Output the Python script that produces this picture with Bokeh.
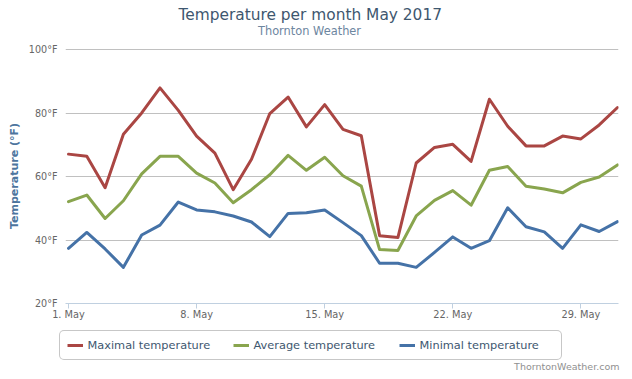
from bokeh.plotting import figure
from bokeh.layouts import column
from bokeh.models import Range1d, FixedTicker, Legend, LegendItem, Label
from bokeh.embed import file_html
from bokeh.resources import INLINE

# ---- data ----
days = list(range(1, 32))
max_temp = [67.1, 66.4, 56.5, 73.4, 80.1, 88.0, 80.9, 72.8, 67.4, 55.9, 65.5, 79.9, 85.1, 75.7, 82.7, 74.9,
            72.9, 41.4, 40.8, 64.3, 69.2, 70.2, 64.8, 84.4, 75.9, 69.7, 69.7, 72.8, 71.9, 76.3, 81.8]
avg_temp = [52.1, 54.2, 46.8, 52.4, 60.9, 66.4, 66.4, 61.1, 58.0, 51.8, 55.9, 60.6, 66.7, 62.0, 66.1, 60.3,
            57.0, 37.0, 36.7, 47.6, 52.5, 55.6, 51.0, 62.0, 63.2, 57.0, 56.1, 54.9, 58.2, 59.9, 63.7]
min_temp = [37.4, 42.4, 37.2, 31.4, 41.6, 44.7, 52.0, 49.5, 48.9, 47.6, 45.7, 41.1, 48.4, 48.6, 49.5, 45.5,
            41.4, 32.7, 32.7, 31.4, 36.1, 41.0, 37.4, 39.8, 50.2, 44.2, 42.6, 37.4, 44.8, 42.7, 45.8]
series_names = ["Maximal temperature", "Average temperature", "Minimal temperature"]
series_colors = ["#AA4643", "#89A54E", "#4572A7"]
x_ticks = [1, 8, 15, 22, 29]
x_labels = ["1. May", "8. May", "15. May", "22. May", "29. May"]
y_ticks = [20, 40, 60, 80, 100]
y_labels = ["20°F", "40°F", "60°F", "80°F", "100°F"]
title_text = "Temperature per month May 2017"
subtitle_text = "Thornton Weather"
credits_text = "ThorntonWeather.com"
y_title = "Temperature (°F)"

FONT = "DejaVu Sans"
W = 626
H_HEAD = 40
H_MAIN = 282
H_FOOT = 57


def strip(height):
    s = figure(width=W, height=height, x_range=Range1d(0, W), y_range=Range1d(0, height),
               output_backend="svg", toolbar_location=None, title=None,
               min_border_left=0, min_border_right=0, min_border_top=0, min_border_bottom=0)
    s.axis.visible = False
    s.grid.visible = False
    s.outline_line_color = None
    s.background_fill_color = "white"
    s.border_fill_color = "white"
    s.frame_align = False
    return s


# ---- header: title + subtitle ----
head = strip(H_HEAD)
head.add_layout(Label(x=309.7, y=26, x_units="screen", y_units="screen", text=title_text,
                      text_align="center", text_baseline="middle", text_font=FONT,
                      text_font_size="15.4px", text_color="#3E576F"))
head.add_layout(Label(x=309, y=10, x_units="screen", y_units="screen", text=subtitle_text,
                      text_align="center", text_baseline="middle", text_font=FONT,
                      text_font_size="11.4px", text_color="#6D869F"))

# ---- main chart ----
p = figure(width=W, height=H_MAIN, title=None,
           x_range=Range1d(0.836, 31.055), y_range=Range1d(20, 100.41),
           output_backend="svg", toolbar_location=None,
           min_border_left=65, min_border_right=8, min_border_top=8, min_border_bottom=17)
p.frame_align = False
p.outline_line_color = None
p.background_fill_color = "white"
p.border_fill_color = "white"

p.xaxis.ticker = FixedTicker(ticks=x_ticks)
p.xaxis.major_label_overrides = {t: l for t, l in zip(x_ticks, x_labels)}
p.xaxis.axis_line_color = "#C0D0E0"
p.xaxis.major_tick_line_color = "#C0D0E0"
p.xaxis.major_tick_out = 5
p.xaxis.major_tick_in = 0
p.xaxis.minor_tick_line_color = None
p.xaxis.major_label_standoff = 0
p.xaxis.major_label_text_font = FONT
p.xaxis.major_label_text_font_size = "9.8px"
p.xaxis.major_label_text_color = "#666666"
p.xgrid.visible = False

p.yaxis.ticker = FixedTicker(ticks=y_ticks)
p.yaxis.major_label_overrides = {t: l for t, l in zip(y_ticks, y_labels)}
p.yaxis.axis_line_color = None
p.yaxis.major_tick_line_color = None
p.yaxis.major_tick_out = 0
p.yaxis.major_tick_in = 0
p.yaxis.minor_tick_line_color = None
p.yaxis.major_label_standoff = 8
p.yaxis.major_label_text_font = FONT
p.yaxis.major_label_text_font_size = "9.6px"
p.yaxis.major_label_text_color = "#666666"
p.yaxis.axis_label = y_title
p.yaxis.axis_label_text_font = FONT
p.yaxis.axis_label_text_font_size = "11px"
p.yaxis.axis_label_text_font_style = "bold"
p.yaxis.axis_label_text_color = "#4D759E"
p.yaxis.axis_label_standoff = 5
p.ygrid.ticker = FixedTicker(ticks=y_ticks)
p.ygrid.grid_line_color = "#C0C0C0"
p.ygrid.grid_line_width = 1

for name, color, vals in zip(series_names, series_colors, [max_temp, avg_temp, min_temp]):
    p.line(days, vals, line_color=color, line_width=3, line_join="round", line_cap="round")

# ---- footer: legend + credits ----
foot = strip(H_FOOT)
items = []
for name, color, vals in zip(series_names, series_colors, [max_temp, avg_temp, min_temp]):
    r = foot.line(days, vals, line_color=color, line_width=3, line_cap="butt", visible=False)
    items.append(LegendItem(label=name, renderers=[r]))

legend = Legend(items=items, orientation="horizontal", location=(58.5, 19),
                border_line_color="#909090", border_line_width=1,
                background_fill_color="white", background_fill_alpha=1,
                inactive_fill_alpha=0,
                padding=7, spacing=11, margin=0,
                glyph_width=16, glyph_height=12, label_height=12, label_width=134,
                label_standoff=5,
                label_text_font=FONT, label_text_font_size="11.35px", label_text_color="#3E576F")
try:
    legend.border_radius = 5
except Exception:
    pass
foot.add_layout(legend)

foot.add_layout(Label(x=619, y=13.3, x_units="screen", y_units="screen", text=credits_text,
                      text_align="right", text_baseline="middle", text_font=FONT,
                      text_font_size="9.5px", text_color="#909090"))

layout = column(head, p, foot, spacing=0)
open("out.html", "w").write(file_html(layout, INLINE))
